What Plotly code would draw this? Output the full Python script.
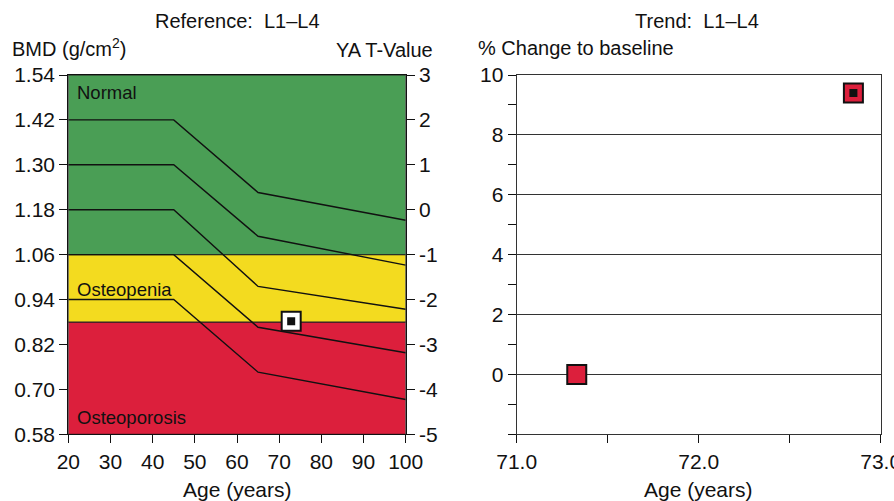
import plotly.graph_objects as go

# ---- data ----
ref_ages = [20, 45, 65, 100]
ref_plus2 = [1.42, 1.42, 1.226, 1.152]
ref_plus1 = [1.30, 1.30, 1.109, 1.032]
ref_mean = [1.18, 1.18, 0.975, 0.914]
ref_minus1 = [1.06, 1.06, 0.866, 0.798]
ref_minus2 = [0.94, 0.94, 0.746, 0.673]

band_low = [0.58, 0.88, 1.06]
band_high = [0.88, 1.06, 1.54]
band_names = ["Osteoporosis", "Osteopenia", "Normal"]
band_colors = ["#DC1F3C", "#F3DB1F", "#4A9E55"]
band_label_y = [0.625, 0.968, 1.492]

patient_age = [72.85]
patient_bmd = [0.882]

bmd_ticks = [0.58, 0.70, 0.82, 0.94, 1.06, 1.18, 1.30, 1.42, 1.54]
tval_ticks = [3, 2, 1, 0, -1, -2, -3, -4, -5]
tval_labels = ["3", "2", "1", "0", "-1", "-2", "-3", "-4", "-5"]
age_ticks = [20, 30, 40, 50, 60, 70, 80, 90, 100]

trend_age = [71.33, 72.85]
trend_change = [0.0, 9.4]
trend_inner = [False, True]
trend_ticks = [0, 2, 4, 6, 8, 10]
trend_age_ticks = [71, 72, 73]

FONT = "Liberation Sans, Arial, sans-serif"
W, H = 894, 501

fig = go.Figure()

# bands
for lo, hi, col in zip(band_low, band_high, band_colors):
    fig.add_shape(type="rect", xref="x", yref="y", x0=20, x1=100, y0=lo, y1=hi,
                  fillcolor=col, line=dict(color="#222222", width=1), layer="below")

# reference curves
for ys in [ref_plus2, ref_plus1, ref_mean, ref_minus1, ref_minus2]:
    fig.add_trace(go.Scatter(x=ref_ages, y=ys, mode="lines", xaxis="x", yaxis="y",
                             line=dict(color="#111111", width=1.4), showlegend=False,
                             hoverinfo="skip"))

# patient point
fig.add_trace(go.Scatter(x=patient_age, y=patient_bmd, mode="markers", xaxis="x", yaxis="y",
                         marker=dict(symbol="square", size=19, color="white",
                                     line=dict(color="#111111", width=2)), showlegend=False))
fig.add_trace(go.Scatter(x=patient_age, y=patient_bmd, mode="markers", xaxis="x", yaxis="y",
                         marker=dict(symbol="square", size=8, color="#111111"), showlegend=False))

# dummy trace for right axis
fig.add_trace(go.Scatter(x=[20], y=[0], mode="markers", xaxis="x", yaxis="y2",
                         marker=dict(opacity=0), showlegend=False, hoverinfo="skip"))

# trend points
fig.add_trace(go.Scatter(x=trend_age, y=trend_change, mode="markers", xaxis="x2", yaxis="y3",
                         marker=dict(symbol="square", size=19, color="#DC1F3C",
                                     line=dict(color="#111111", width=2)), showlegend=False))
inner_x = [a for a, f in zip(trend_age, trend_inner) if f]
inner_y = [c for c, f in zip(trend_change, trend_inner) if f]
fig.add_trace(go.Scatter(x=inner_x, y=inner_y, mode="markers", xaxis="x2", yaxis="y3",
                         marker=dict(symbol="square", size=8, color="#111111"), showlegend=False))

# band labels
for name, yv in zip(band_names, band_label_y):
    fig.add_annotation(x=21.6, y=yv, xref="x", yref="y", text=name, showarrow=False,
                       xanchor="left", yanchor="middle",
                       font=dict(family=FONT, size=18.5, color="#111111"))

x0L, x1L = 68.3 / W, 405.7 / W
x0R, x1R = 516.7 / W, 880.7 / W
yb, yt = (H - 434.3) / H, (H - 75) / H

axis_common = dict(showline=True, linecolor="#111111", linewidth=1.2, ticks="outside",
                   tickcolor="#111111", tickwidth=1.2, ticklen=8, showgrid=False,
                   zeroline=False, tickfont=dict(family=FONT, size=21, color="#111111"),
                   automargin=False, ticklabeloverflow="allow")

fig.update_layout(
    width=W, height=H, margin=dict(l=0, r=0, t=0, b=0),
    paper_bgcolor="white", plot_bgcolor="rgba(0,0,0,0)",
    showlegend=False,
    xaxis=dict(domain=[x0L, x1L], range=[20, 100], tickvals=age_ticks, mirror=True,
               anchor="y", **axis_common),
    yaxis=dict(domain=[yb, yt], range=[0.58, 1.54], tickvals=bmd_ticks, tickformat=".2f",
               anchor="x", **axis_common),
    yaxis2=dict(domain=[yb, yt], range=[-5, 3], tickvals=tval_ticks, ticktext=tval_labels,
                overlaying="y", side="right", anchor="x", **axis_common),
    xaxis2=dict(domain=[x0R, x1R], range=[71, 73], tickvals=trend_age_ticks, tickformat=".1f",
                mirror=True, anchor="y3",
                minor=dict(dtick=0.5, tick0=71, ticks="outside", ticklen=8,
                           tickcolor="#111111", tickwidth=1.2),
                **{**axis_common, "linecolor": "#333333"}),
    yaxis3=dict(domain=[yb, yt], range=[-2, 10], tickvals=trend_ticks,
                mirror=True, anchor="x2",
                minor=dict(dtick=1, tick0=0, ticks="outside", ticklen=8,
                           tickcolor="#111111", tickwidth=1.2, showgrid=False),
                **{**axis_common, "showgrid": True, "gridcolor": "#333333",
                   "gridwidth": 1, "linecolor": "#333333"}),
)

def txt(x, y, s, anchor="center", size=21):
    fig.add_annotation(x=x / W, y=1 - y / H, xref="paper", yref="paper", text=s,
                       showarrow=False, xanchor=anchor, yanchor="middle",
                       font=dict(family=FONT, size=size, color="#111111"))

txt(237, 21, "Reference:  L1–L4", size=20)
txt(10, 48, "BMD (g/cm<sup>2</sup>)", anchor="left", size=20)
txt(435, 50, "YA T-Value", anchor="right", size=20)
txt(237, 489, "Age (years)")
txt(697, 21, "Trend:  L1–L4", size=20)
txt(476, 48, "% Change to baseline", anchor="left", size=20)
txt(698, 489, "Age (years)")

fig.write_html("out.html", config={"displayModeBar": False},
               post_script="document.body.style.margin='0';document.body.style.overflow='hidden';")
